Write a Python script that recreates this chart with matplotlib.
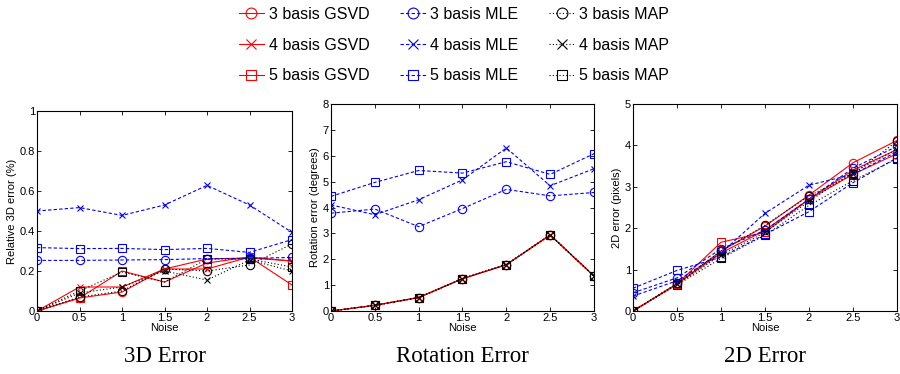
# plot.py :: three-panel error comparison (GSVD / MLE / MAP)
# --------------------------------------------------------
import matplotlib
matplotlib.use('Agg')
from matplotlib import pyplot as plt

# =========================================================
## --- data --- ##
noise = [0, 0.5, 1, 1.5, 2, 2.5, 3]
bases = [3, 4, 5]

# relative 3D error (%)
err3d_gsvd = [[0.0, 0.065, 0.095, 0.21, 0.26, 0.265, 0.25],
              [0.0, 0.12, 0.12, 0.21, 0.21, 0.27, 0.25],
              [0.0, 0.065, 0.20, 0.145, 0.24, 0.27, 0.13]]
err3d_mle = [[0.253, 0.253, 0.255, 0.257, 0.262, 0.263, 0.268],
             [0.50, 0.517, 0.478, 0.53, 0.628, 0.53, 0.393],
             [0.317, 0.312, 0.313, 0.307, 0.313, 0.293, 0.357]]
err3d_map = [[0.0, 0.07, 0.10, 0.21, 0.20, 0.23, 0.335],
             [0.0, 0.09, 0.12, 0.20, 0.155, 0.255, 0.20],
             [0.0, 0.10, 0.195, 0.145, 0.26, 0.26, 0.22]]

# rotation error (degrees)
rot_gsvd = [[0.0, 0.22, 0.52, 1.25, 1.79, 2.94, 1.35],
            [0.0, 0.22, 0.52, 1.25, 1.79, 2.94, 1.35],
            [0.0, 0.22, 0.52, 1.25, 1.79, 2.94, 1.35]]
rot_mle = [[3.78, 3.94, 3.26, 3.96, 4.70, 4.45, 4.58],
           [4.10, 3.72, 4.30, 5.07, 6.30, 4.84, 5.50],
           [4.43, 4.97, 5.43, 5.33, 5.77, 5.28, 6.08]]
rot_map = [[0.0, 0.22, 0.52, 1.25, 1.79, 2.94, 1.35],
           [0.0, 0.22, 0.52, 1.25, 1.79, 2.94, 1.35],
           [0.0, 0.22, 0.52, 1.25, 1.79, 2.94, 1.35]]

# 2D error (pixels)
err2d_gsvd = [[0.0, 0.65, 1.45, 2.05, 2.80, 3.58, 4.12],
              [0.0, 0.65, 1.40, 1.95, 2.70, 3.40, 3.90],
              [0.0, 0.65, 1.66, 1.90, 2.70, 3.30, 3.80]]
err2d_mle = [[0.44, 0.80, 1.50, 1.95, 2.70, 3.45, 3.98],
             [0.36, 0.73, 1.40, 2.36, 3.04, 3.30, 3.85],
             [0.55, 0.98, 1.30, 1.85, 2.40, 3.10, 3.70]]
err2d_map = [[0.0, 0.67, 1.45, 2.07, 2.78, 3.30, 4.10],
             [0.0, 0.65, 1.35, 1.90, 2.65, 3.35, 3.90],
             [0.0, 0.63, 1.27, 1.83, 2.55, 3.15, 3.68]]

panels = [
    ('3D Error', 'Relative 3D error (%)', (0, 1), [0, 0.2, 0.4, 0.6, 0.8, 1],
     err3d_gsvd, err3d_mle, err3d_map),
    ('Rotation Error', 'Rotation error (degrees)', (0, 8), list(range(0, 9)),
     rot_gsvd, rot_mle, rot_map),
    ('2D Error', '2D error (pixels)', (0, 5), list(range(0, 6)),
     err2d_gsvd, err2d_mle, err2d_map),
]

# =========================================================
## --- drawing --- ##
plt.rcParams['font.family'] = ['Liberation Sans', 'DejaVu Sans']

markers = ['o', 'x', 's']
# method name, colour, dash pattern (None = solid)
methods = [('GSVD', 'red', None), ('MLE', 'blue', (3, 2)), ('MAP', 'black', (1, 2))]

fig = plt.figure(figsize=(9, 3.74), dpi=100)
W, H = 900, 374
boxes = [(37, 111, 292, 311), (331, 104, 594, 311), (633, 104, 897, 311)]

handles = []
for pi, (title, ylab, ylim, yticks, gs, ml, mp) in enumerate(panels):
    x0, y0, x1, y1 = boxes[pi]
    ax = fig.add_axes([x0 / W, 1 - y1 / H, (x1 - x0) / W, (y1 - y0) / H])
    for (mname, col, dash), series in zip(methods, [gs, ml, mp]):
        for bi, (nb, mk) in enumerate(zip(bases, markers)):
            ln, = ax.plot(noise, series[bi], color=col, lw=0.8,
                          marker=mk, markersize=6 if mk != 'x' else 5,
                          markerfacecolor='none', markeredgecolor=col,
                          markeredgewidth=0.8,
                          label=f'{nb} basis {mname}')
            if dash is not None:
                ln.set_dashes(dash)
            if pi == 0:
                handles.append(ln)
    ax.set_xlim(0, 3)
    ax.set_ylim(*ylim)
    ax.set_xticks(noise)
    ax.set_xticklabels(['0', '0.5', '1', '1.5', '2', '2.5', '3'])
    ax.set_yticks(yticks)
    ax.set_yticklabels([f'{v:g}' for v in yticks])
    ax.tick_params(direction='in', top=True, right=True, labelsize=8,
                   length=3, width=0.6, pad=1.5)
    ax.set_xlabel('Noise', fontsize=8, labelpad=0)
    ax.set_ylabel(ylab, fontsize=8, labelpad=2)
    for sp in ax.spines.values():
        sp.set_linewidth(0.8)
    fig.text((x0 + x1) / 2 / W, 1 - 357 / H, title, ha='center', va='center',
             fontsize=16.5, family=['Liberation Serif', 'DejaVu Serif'])

fig.legend(handles=handles, ncol=3, loc='center', bbox_to_anchor=(454 / W, 1 - 45 / H),
           frameon=False, fontsize=11.5, labelspacing=1.0, columnspacing=1.9,
           handlelength=1.6, handletextpad=0.3, borderpad=0.2, markerscale=1.3)

fig.savefig('out.png', dpi=100)
